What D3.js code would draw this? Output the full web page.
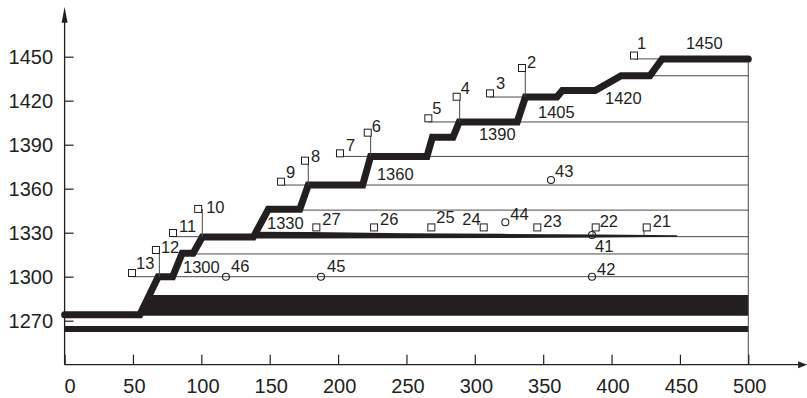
<!DOCTYPE html>
<html><head><meta charset="utf-8">
<script src="https://cdn.jsdelivr.net/npm/d3@7"></script>
<style>body{margin:0;background:#fff}svg{display:block}</style>
</head><body>
<svg id="c" width="807" height="398"></svg>
<script>
// ---------- data ----------
const xTicks = [0, 50, 100, 150, 200, 250, 300, 350, 400, 450, 500];
const yTicks = [1270, 1300, 1330, 1360, 1390, 1420, 1450];

// thick step line
const stepX = [0, 55, 68.5, 79, 86, 94, 100.7, 138, 149, 172, 178.2, 218, 223.8, 265, 269, 284, 288.6, 331, 337, 360, 364, 388, 407, 428, 437, 500];
const stepV = [1274, 1274, 1300, 1300, 1316, 1316, 1327, 1327, 1346, 1346, 1362.5, 1362.5, 1382, 1382, 1395, 1395, 1405.5, 1405.5, 1422.5, 1422.5, 1427, 1427, 1437, 1437, 1448.5, 1448.5];

// thin level lines
const levelV    = [1300, 1315.5, 1327.3, 1345.4, 1362.5, 1382, 1405.5, 1422.5, 1437, 1448.5];
const levelFrom = [49.3, 86, 79.3, 149, 158.3, 201.4, 266, 311.1, 428, 416.4];
const levelTo   = [500, 500, 500, 500, 500, 500, 500, 337, 500, 437];

// tapering line at ~1330
const taperX   = [138, 180, 250, 320, 390, 448];
const taperTop = [1330.6, 1330.5, 1329.6, 1329.2, 1328.8, 1328.2];
const taperBot = [1326.0, 1326.1, 1326.2, 1326.4, 1326.8, 1327.2];

// filled bands
const bandUpperX = [55, 61.75, 500, 500];
const bandUpperV = [1273.4, 1287.5, 1287.5, 1273.4];
const bandLowerX = [0, 500];
const bandLowerTop = [1266.4, 1266.4];
const bandLowerBot = [1262.3, 1262.3];

// square markers
const sqId = [1, 2, 3, 4, 5, 6, 7, 8, 9, 10, 11, 12, 13, 21, 22, 23, 24, 25, 26, 27];
const sqX  = [416.4, 334.5, 311.1, 286.7, 266.0, 221.7, 201.4, 175.8, 158.3, 97.7, 79.3, 66.8, 49.3, 425.7, 388.4, 345.7, 306.5, 268.2, 226.3, 184.1];
const sqV  = [1450.8, 1442.3, 1425.0, 1422.7, 1408.0, 1398.2, 1384.1, 1379.1, 1364.8, 1346.2, 1329.8, 1318.2, 1302.5, 1333.6, 1333.6, 1333.6, 1333.6, 1333.6, 1333.6, 1333.6];

// vertical leaders
const leadX   = [336.9, 288.9, 223.8, 178.2, 100.7, 69.3, 423.7, 386.4];
const leadTop = [1442.3, 1422.7, 1398.2, 1379.1, 1346.2, 1318.2, 1333.6, 1333.6];
const leadBot = [1422.5, 1405.5, 1382, 1362.5, 1327, 1300, 1328, 1328.4];

// circle markers
const cId = [41, 42, 43, 44, 45, 46];
const cX  = [385.7, 385.7, 355.7, 322.3, 187.5, 118.0];
const cV  = [1328.4, 1300, 1365.9, 1337.1, 1300, 1300];

// value labels
const valText = ["1450", "1420", "1405", "1390", "1360", "1330", "1300"];
const valX    = [454.4, 395.2, 346.2, 303.0, 228.4, 148.0, 86.6];
const valV    = [1455.2, 1417.7, 1408.2, 1393.2, 1365.9, 1332.5, 1302.5];

// axis extents
const xAxisMax = 543, yAxisMin = 1240, yAxisMax = 1484;

// ---------- drawing ----------
const ink = "#231f20";
const font = "'Liberation Sans', Arial, sans-serif";
const svg = d3.select("#c");
const x = d3.scaleLinear().domain([0, 500]).range([64.6, 748.3]);
const y = d3.scaleLinear().domain([1300, 1450]).range([276.7, 56.7]);

// bands
svg.append("path")
  .attr("d", d3.line().x((d, i) => x(bandUpperX[i])).y((d, i) => y(bandUpperV[i]))(bandUpperX) + "Z")
  .attr("fill", ink);
svg.append("path")
  .attr("d", d3.area().x((d, i) => x(bandLowerX[i])).y0((d, i) => y(bandLowerBot[i])).y1((d, i) => y(bandLowerTop[i]))(bandLowerX))
  .attr("fill", ink);

// level lines
svg.append("g").selectAll("line").data(levelV).join("line")
  .attr("x1", (d, i) => x(levelFrom[i])).attr("x2", (d, i) => x(levelTo[i]))
  .attr("y1", d => y(d)).attr("y2", d => y(d))
  .attr("stroke", "#4a4a4a").attr("stroke-width", 1);

// right vertical line
svg.append("line")
  .attr("x1", x(500)).attr("x2", x(500))
  .attr("y1", y(1448.5)).attr("y2", y(yAxisMin))
  .attr("stroke", "#4a4a4a").attr("stroke-width", 1);

// tapering line
svg.append("path")
  .attr("d", d3.area().x((d, i) => x(taperX[i])).y0((d, i) => y(taperBot[i])).y1((d, i) => y(taperTop[i]))(taperX))
  .attr("fill", ink);

// thick step line
svg.append("path")
  .attr("d", d3.line().x((d, i) => x(stepX[i])).y((d, i) => y(stepV[i]))(stepX))
  .attr("fill", "none").attr("stroke", ink).attr("stroke-width", 7)
  .attr("stroke-linecap", "round").attr("stroke-linejoin", "miter");

// leaders
svg.append("g").selectAll("line").data(leadX).join("line")
  .attr("x1", d => x(d)).attr("x2", d => x(d))
  .attr("y1", (d, i) => y(leadTop[i])).attr("y2", (d, i) => y(leadBot[i]))
  .attr("stroke", "#4a4a4a").attr("stroke-width", 1);

// squares
svg.append("g").selectAll("rect").data(sqId).join("rect")
  .attr("x", (d, i) => x(sqX[i]) - 3.5).attr("y", (d, i) => y(sqV[i]) - 3.5)
  .attr("width", 7).attr("height", 7)
  .attr("fill", "#fff").attr("stroke", ink).attr("stroke-width", 1);

// circles
svg.append("g").selectAll("circle").data(cId).join("circle")
  .attr("cx", (d, i) => x(cX[i])).attr("cy", (d, i) => y(cV[i])).attr("r", 3.5)
  .attr("fill", "none").attr("stroke", ink).attr("stroke-width", 1.1);

// marker labels (pixel offsets from marker centre)
const sqOff = {1:[3,-6.5],2:[5,0],3:[6,-4],4:[4,-3],5:[4,-4],6:[4,-1],7:[6,-2],8:[6,1],9:[5,-4],10:[8,4],11:[6,-1],12:[5,3],13:[4,-4],
  21:[6,0],22:[4,0],23:[6,0],24:[-3,-2],25:[5,-4],26:[6,-2],27:[6,-2]};
const cOff = {41:[3,17],42:[5,-2],43:[4,-3],44:[5,-2],45:[6,-5],46:[5,-5]};
const lab = svg.append("g").attr("font-family", font).attr("font-size", 16.5).attr("fill", ink);
lab.selectAll("text.sq").data(sqId).join("text").attr("class", "sq")
  .attr("x", (d, i) => x(sqX[i]) + sqOff[d][0]).attr("y", (d, i) => y(sqV[i]) + sqOff[d][1])
  .attr("text-anchor", d => d === 24 ? "end" : "start").text(d => d);
lab.selectAll("text.ci").data(cId).join("text").attr("class", "ci")
  .attr("x", (d, i) => x(cX[i]) + cOff[d][0]).attr("y", (d, i) => y(cV[i]) + cOff[d][1]).text(d => d);
lab.selectAll("text.val").data(valText).join("text").attr("class", "val")
  .attr("x", (d, i) => x(valX[i])).attr("y", (d, i) => y(valV[i])).text(d => d);

// axes
const gx = svg.append("g").attr("transform", `translate(0,${y(yAxisMin)})`)
  .call(d3.axisBottom(x).tickValues(xTicks).tickFormat(d3.format("d")).tickSizeInner(-10).tickSizeOuter(0).tickPadding(14));
gx.select(".domain").remove();
gx.selectAll(".tick line").attr("stroke", ink).attr("stroke-width", 1.2);
gx.selectAll(".tick text").attr("font-family", font).attr("font-size", 20).attr("fill", ink)
  .attr("dx", d => d === 0 ? 5 : 1);

const gy = svg.append("g").attr("transform", `translate(${x(0)},0)`)
  .call(d3.axisLeft(y).tickValues(yTicks).tickFormat(d3.format("d")).tickSizeInner(-9).tickSizeOuter(0).tickPadding(11.5));
gy.select(".domain").remove();
gy.selectAll(".tick line").attr("stroke", ink).attr("stroke-width", 1.2);
gy.selectAll(".tick text").attr("font-family", font).attr("font-size", 20).attr("fill", ink);

// axis lines with arrows
svg.append("line").attr("x1", x(0)).attr("x2", x(xAxisMax) - 6)
  .attr("y1", y(yAxisMin)).attr("y2", y(yAxisMin)).attr("stroke", ink).attr("stroke-width", 1.3);
svg.append("line").attr("x1", x(0)).attr("x2", x(0))
  .attr("y1", y(yAxisMin)).attr("y2", y(yAxisMax) + 10).attr("stroke", ink).attr("stroke-width", 1.3);
const ax = x(xAxisMax), ay = y(yAxisMin);
svg.append("path").attr("d", `M${ax},${ay}L${ax - 9},${ay - 3.5}L${ax - 9},${ay + 3.5}Z`).attr("fill", ink);
const bx = x(0), by = y(yAxisMax);
svg.append("path").attr("d", `M${bx},${by}L${bx - 3},${by + 16}L${bx + 3},${by + 16}Z`).attr("fill", ink);
</script>
</body></html>
